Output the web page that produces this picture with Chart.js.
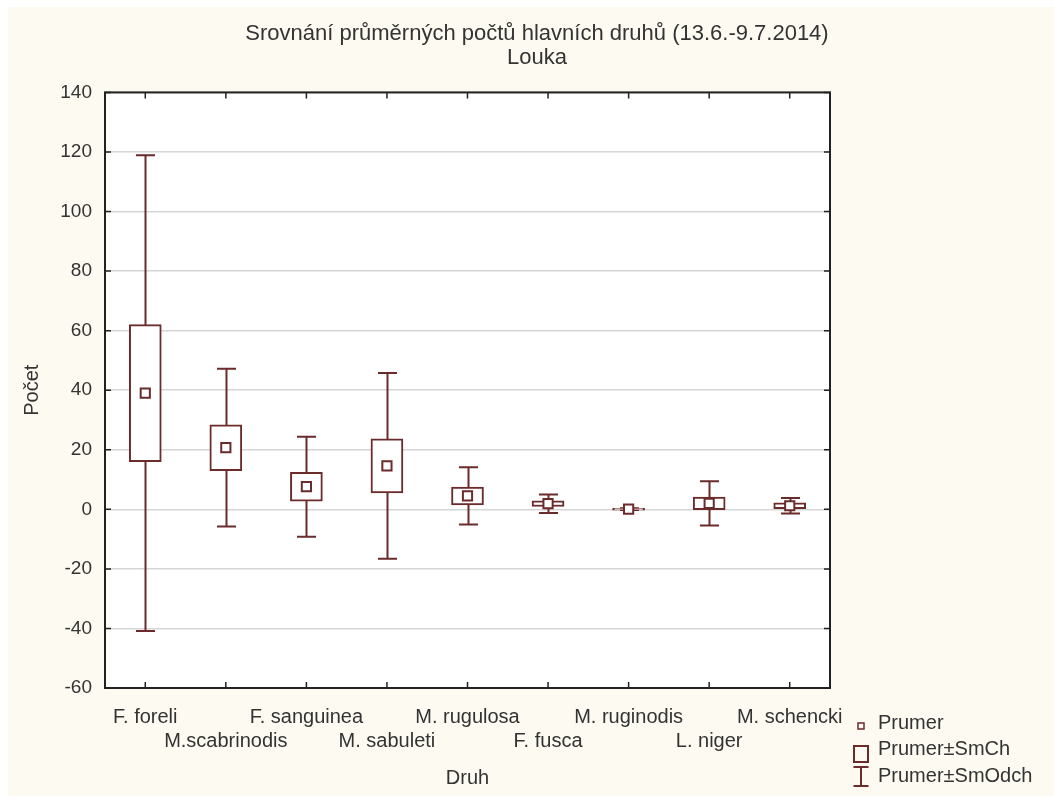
<!DOCTYPE html>
<html>
<head>
<meta charset="utf-8">
<title>Srovnání průměrných počtů hlavních druhů – Louka</title>
<script src="https://cdn.jsdelivr.net/npm/chart.js@4.4.1/dist/chart.umd.min.js"></script>
<style>
  html, body { margin: 0; padding: 0; background: #ffffff; }
  canvas { display: block; }
</style>
</head>
<body>
<canvas id="chart" width="1054" height="796"></canvas>
<script>
// Species (Druh) and their mean counts with standard error and standard deviation
const categories = ['F. foreli', 'M.scabrinodis', 'F. sanguinea', 'M. sabuleti', 'M. rugulosa',
                    'F. fusca', 'M. ruginodis', 'L. niger', 'M. schencki'];
const means  = [39.0, 20.7, 7.6, 14.6, 4.5, 1.9, 0.05, 2.0, 1.2];
const stdErr = [23.0, 7.7, 4.85, 9.1, 3.0, 0.95, 0.3, 2.1, 1.0];
const stdDev = [79.9, 26.5, 16.8, 31.2, 9.6, 3.1, 0.3, 7.4, 2.6];

const yMin = -60, yMax = 140, yStep = 20;
const legendLabels = ['Prumer', 'Prumer±SmCh', 'Prumer±SmOdch'];

const MAROON = '#6b2b2b';
const TEXT = '#333333';
const FONT = "'Liberation Sans', Arial, sans-serif";

// Alternate labels between two rows so long names do not collide
const staggeredLabels = categories.map((c, i) => i % 2 === 0 ? [c] : ['', c]);

// Page background, white plotting area
const backgroundPlugin = {
  id: 'background',
  beforeDraw(chart) {
    const { ctx, chartArea: a } = chart;
    ctx.save();
    ctx.fillStyle = '#ffffff';
    ctx.fillRect(0, 0, chart.width, chart.height);
    ctx.fillStyle = '#fdfaf1';
    ctx.fillRect(8, 7, chart.width - 8, chart.height - 7);
    ctx.fillStyle = '#ffffff';
    ctx.fillRect(a.left, a.top, a.right - a.left, a.bottom - a.top);
    ctx.restore();
  }
};

// Whiskers: mean ± standard deviation, drawn beneath the boxes
const whiskerPlugin = {
  id: 'whiskers',
  beforeDatasetsDraw(chart) {
    const { ctx, scales: { x, y } } = chart;
    ctx.save();
    ctx.strokeStyle = MAROON;
    ctx.lineWidth = 2;
    means.forEach((m, i) => {
      const cx = Math.round(x.getPixelForValue(i)) + 0.5;
      const top = y.getPixelForValue(m + stdDev[i]);
      const bot = y.getPixelForValue(m - stdDev[i]);
      ctx.beginPath();
      ctx.moveTo(cx, top); ctx.lineTo(cx, bot);
      ctx.moveTo(cx - 9.5, top); ctx.lineTo(cx + 9.5, top);
      ctx.moveTo(cx - 9.5, bot); ctx.lineTo(cx + 9.5, bot);
      ctx.stroke();
    });
    ctx.restore();
  }
};

// Plot frame with inward tick marks on all four sides, plus the legend
const framePlugin = {
  id: 'frame',
  afterDraw(chart) {
    const { ctx, chartArea: a, scales: { x, y } } = chart;
    ctx.save();
    ctx.strokeStyle = '#222222';
    ctx.lineWidth = 2;
    ctx.strokeRect(a.left, a.top, a.right - a.left, a.bottom - a.top);
    ctx.lineWidth = 1.5;
    ctx.beginPath();
    y.ticks.forEach((t, i) => {
      const py = y.getPixelForTick(i);
      ctx.moveTo(a.left, py); ctx.lineTo(a.left + 6, py);
      ctx.moveTo(a.right, py); ctx.lineTo(a.right - 6, py);
    });
    categories.forEach((c, i) => {
      const px = x.getPixelForValue(i);
      ctx.moveTo(px, a.top); ctx.lineTo(px, a.top + 6);
      ctx.moveTo(px, a.bottom); ctx.lineTo(px, a.bottom - 6);
    });
    ctx.stroke();

    // Legend
    const lx = 861;
    ctx.strokeStyle = MAROON;
    ctx.lineWidth = 1.5;
    ctx.strokeRect(lx - 3, 723, 6, 6);
    ctx.lineWidth = 2;
    ctx.strokeRect(lx - 7, 746, 14, 16);
    ctx.beginPath();
    ctx.moveTo(lx, 767); ctx.lineTo(lx, 786);
    ctx.moveTo(lx - 7.5, 767); ctx.lineTo(lx + 7.5, 767);
    ctx.moveTo(lx - 7.5, 786); ctx.lineTo(lx + 7.5, 786);
    ctx.stroke();
    ctx.fillStyle = TEXT;
    ctx.font = '20px ' + FONT;
    ctx.textBaseline = 'middle';
    ctx.textAlign = 'left';
    legendLabels.forEach((t, i) => ctx.fillText(t, 878, 723 + i * 26.5));
    ctx.restore();
  }
};

new Chart(document.getElementById('chart'), {
  type: 'bar',
  data: {
    labels: staggeredLabels,
    datasets: [
      {
        label: legendLabels[1],
        data: means.map((m, i) => [m - stdErr[i], m + stdErr[i]]),
        backgroundColor: '#ffffff',
        borderColor: MAROON,
        borderWidth: 2,
        borderSkipped: false,
        barThickness: 32,
        order: 2
      },
      {
        label: legendLabels[0],
        type: 'line',
        data: means,
        showLine: false,
        pointStyle: 'rect',
        pointRadius: 6.5,
        pointBorderWidth: 2,
        pointBackgroundColor: '#ffffff',
        pointBorderColor: MAROON,
        order: 1
      }
    ]
  },
  options: {
    responsive: false,
    animation: false,
    events: [],
    layout: { padding: { left: 20, top: 7, right: 0, bottom: 0 } },
    plugins: {
      legend: { display: false },
      tooltip: { enabled: false },
      title: {
        display: true,
        text: ['Srovnání průměrných počtů hlavních druhů (13.6.-9.7.2014)', 'Louka'],
        color: TEXT,
        font: { family: FONT, size: 22, weight: 'normal', lineHeight: 1.1 },
        padding: { top: 15, bottom: 22 }
      }
    },
    scales: {
      x: {
        offset: true,
        grid: { display: false, drawTicks: false },
        border: { display: false },
        ticks: {
          autoSkip: false, maxRotation: 0, minRotation: 0,
          color: TEXT, padding: 17,
          font: { family: FONT, size: 20, lineHeight: 1.2 }
        },
        title: {
          display: true, text: 'Druh', color: TEXT,
          font: { family: FONT, size: 20, lineHeight: 1.2 },
          padding: { top: 0, bottom: 6 }
        },
        afterFit(scale) { scale.height = 108; }
      },
      y: {
        min: yMin, max: yMax,
        grid: { color: '#d6d6d6', lineWidth: 1.5, drawTicks: false },
        border: { display: false },
        ticks: {
          stepSize: yStep, color: TEXT, padding: 13,
          font: { family: FONT, size: 19 }
        },
        title: {
          display: true, text: 'Počet', color: TEXT,
          font: { family: FONT, size: 20, lineHeight: 1.2 },
          padding: 0
        },
        afterFit(scale) { scale.width = 85; }
      },
      yRight: {
        position: 'right',
        min: yMin, max: yMax,
        grid: { display: false, drawOnChartArea: false },
        border: { display: false },
        ticks: { display: false },
        afterFit(scale) { scale.width = 224; }
      }
    }
  },
  plugins: [backgroundPlugin, whiskerPlugin, framePlugin]
});
</script>
</body>
</html>
